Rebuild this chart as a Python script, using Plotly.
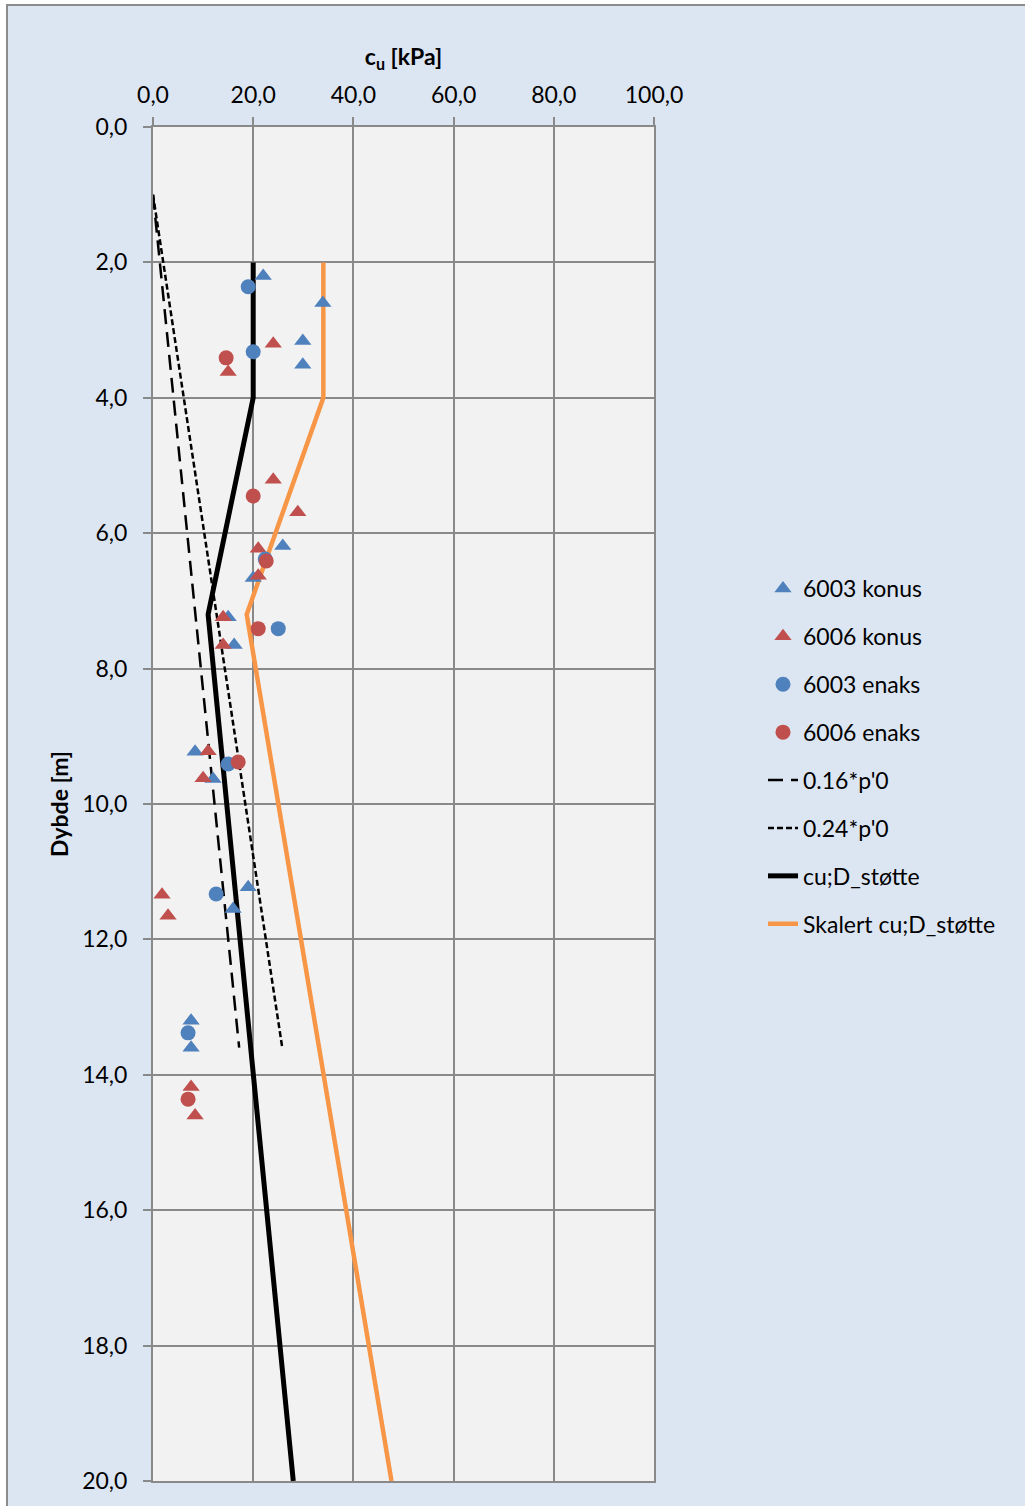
import plotly.graph_objects as go

# Measured undrained shear strength (kPa) against depth (m)
konus_6003_cu = [22.0, 33.9, 29.9, 29.9, 25.9, 20.0, 15.0, 16.2, 8.4, 12.0, 19.0, 16.0, 7.6, 7.6]
konus_6003_z = [2.2, 2.6, 3.16, 3.51, 6.19, 6.66, 7.24, 7.65, 9.23, 9.63, 11.23, 11.55, 13.2, 13.6]

konus_6006_cu = [24.0, 15.0, 24.0, 28.9, 21.0, 21.0, 14.0, 14.0, 11.0, 10.0, 1.8, 3.0, 7.6, 8.4]
konus_6006_z = [3.2, 3.62, 5.21, 5.69, 6.23, 6.63, 7.24, 7.65, 9.22, 9.62, 11.34, 11.65, 14.18, 14.6]

enaks_6003_cu = [19.0, 20.0, 22.4, 25.0, 15.0, 12.6, 7.0]
enaks_6003_z = [2.36, 3.32, 6.38, 7.41, 9.41, 11.33, 13.38]

enaks_6006_cu = [14.6, 20.0, 22.6, 21.0, 17.0, 7.0]
enaks_6006_z = [3.41, 5.45, 6.41, 7.41, 9.38, 14.36]

# Empirical trend lines
p016_cu = [0.0, 17.2]
p016_z = [1.0, 13.6]
p024_cu = [0.0, 25.8]
p024_z = [1.0, 13.6]

# Design profiles
cud_cu = [20.0, 20.0, 11.0, 28.0]
cud_z = [2.0, 4.0, 7.2, 20.0]
skal_cu = [34.0, 34.0, 18.7, 47.6]
skal_z = [2.0, 4.0, 7.2, 20.0]

x_ticks = [0, 20, 40, 60, 80, 100]
y_ticks = [0, 2, 4, 6, 8, 10, 12, 14, 16, 18, 20]

BLUE = "#4f81bd"
RED = "#c0504d"
ORANGE = "#f79646"
FONT = "Lato"

fig = go.Figure()

# lines first so the markers sit on top
fig.add_trace(go.Scatter(x=p016_cu, y=p016_z, mode="lines", name="0.16*p'0",
                         line=dict(color="black", width=2.5, dash="15px,8px"),
                         legendrank=5, legendgroup="g5"))
fig.add_trace(go.Scatter(x=p024_cu, y=p024_z, mode="lines", name="0.24*p'0",
                         line=dict(color="black", width=2.5, dash="6px,3px"),
                         legendrank=6, legendgroup="g6"))
fig.add_trace(go.Scatter(x=cud_cu, y=cud_z, mode="lines", name="cu;D_støtte",
                         line=dict(color="black", width=5),
                         legendrank=7, legendgroup="g7"))
fig.add_trace(go.Scatter(x=skal_cu, y=skal_z, mode="lines", name="Skalert cu;D_støtte",
                         line=dict(color=ORANGE, width=4.5),
                         legendrank=8, legendgroup="g8"))

fig.add_trace(go.Scatter(x=konus_6003_cu, y=konus_6003_z, mode="markers", name="6003 konus",
                         marker=dict(symbol="triangle-up", size=15, color=BLUE),
                         legendrank=1, legendgroup="g1"))
fig.add_trace(go.Scatter(x=konus_6006_cu, y=konus_6006_z, mode="markers", name="6006 konus",
                         marker=dict(symbol="triangle-up", size=15, color=RED),
                         legendrank=2, legendgroup="g2"))
fig.add_trace(go.Scatter(x=enaks_6003_cu, y=enaks_6003_z, mode="markers", name="6003 enaks",
                         marker=dict(symbol="circle", size=15, color=BLUE),
                         legendrank=3, legendgroup="g3"))
fig.add_trace(go.Scatter(x=enaks_6006_cu, y=enaks_6006_z, mode="markers", name="6006 enaks",
                         marker=dict(symbol="circle", size=15, color=RED),
                         legendrank=4, legendgroup="g4"))

L, R, T, B = 153, 654, 127, 1481
W, H = 1025, 1506
pw, ph = R - L, B - T


def px_x(p):
    return (p - L) / pw


def px_y(p):
    return (B - p) / ph


GRID = "#898989"

fig.update_layout(
    width=W, height=H,
    margin=dict(l=L, r=W - R, t=T, b=H - B, pad=0),
    paper_bgcolor="white",
    plot_bgcolor="#f2f2f2",
    separators=",.",
    font=dict(family=FONT, size=23, color="black"),
    showlegend=True,
    legend=dict(
        x=px_x(763), y=px_y(567), xanchor="left", yanchor="top",
        bgcolor="rgba(0,0,0,0)", font=dict(family=FONT, size=23, color="black"),
        traceorder="grouped", tracegroupgap=15,
    ),
    xaxis=dict(
        side="top", range=[0, 100], tickvals=x_ticks, tickformat=".1f",
        showgrid=True, gridcolor=GRID, gridwidth=2,
        showline=True, linecolor=GRID, linewidth=2, mirror=True,
        ticks="outside", ticklen=8, tickcolor=GRID, tickwidth=2,
        ticklabelstandoff=5,
        zeroline=False,
        title=dict(text="<b>c<sub>u</sub> [kPa]</b>", font=dict(family=FONT, size=23), standoff=8),
        tickfont=dict(family=FONT, size=23),
    ),
    yaxis=dict(
        range=[20, 0], tickvals=y_ticks, tickformat=".1f",
        showgrid=True, gridcolor=GRID, gridwidth=2,
        showline=True, linecolor=GRID, linewidth=2, mirror=True,
        ticks="outside", ticklen=8, tickcolor=GRID, tickwidth=2,
        ticklabelstandoff=11,
        zeroline=False,
        title=dict(text="<b>Dybde [m]</b>", font=dict(family=FONT, size=23), standoff=7),
        tickfont=dict(family=FONT, size=23),
    ),
    shapes=[
        # chart area panel with its border
        dict(type="rect", xref="paper", yref="paper", layer="below",
             x0=px_x(7), x1=px_x(W + 20), y0=px_y(H + 20), y1=px_y(5),
             fillcolor="#dce6f2", line=dict(color="#8c8c8c", width=2)),
        # plot area fill
        dict(type="rect", xref="paper", yref="paper", layer="below",
             x0=0, x1=1, y0=0, y1=1, fillcolor="#f2f2f2", line=dict(width=0)),
    ],
)

fig.write_html("out.html")
